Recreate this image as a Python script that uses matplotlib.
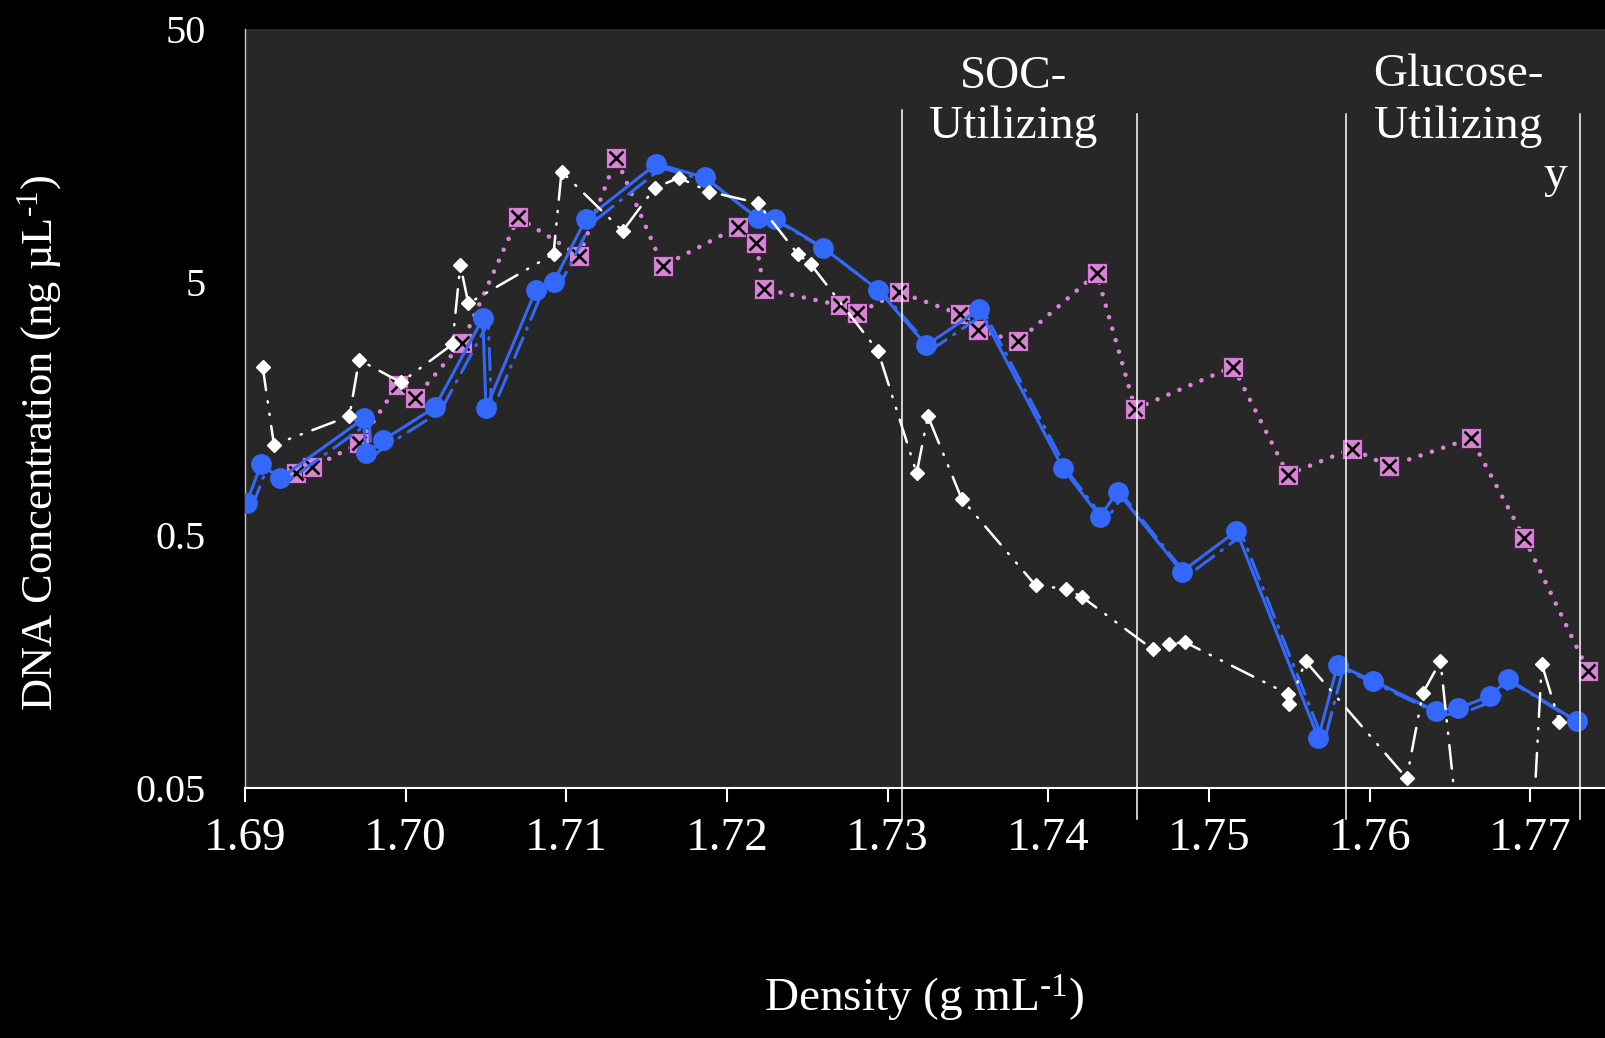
import matplotlib
matplotlib.use("Agg")
from matplotlib import pyplot as plt
from matplotlib import transforms
import numpy as np

plt.rcParams['font.family'] = ['Liberation Serif', 'DejaVu Serif']
plt.rcParams['mathtext.fontset'] = 'custom'
plt.rcParams['mathtext.rm'] = 'Liberation Serif'
plt.rcParams['mathtext.it'] = 'Liberation Serif:italic'

# blue series (circles, solid line)
blue_x = [1.6901, 1.6910, 1.6922, 1.6974, 1.6975, 1.6986, 1.7018, 1.7048, 1.7050, 1.7081,
          1.7092, 1.7112, 1.7156, 1.7186, 1.7219, 1.7230, 1.7260, 1.7294, 1.7324, 1.7357,
          1.7409, 1.7432, 1.7443, 1.7483, 1.7517, 1.7568, 1.7580, 1.7602, 1.7641, 1.7655,
          1.7675, 1.7686, 1.7729]
blue_y = [0.673, 0.954, 0.840, 1.45, 1.055, 1.19, 1.60, 3.60, 1.59, 4.66,
          5.0, 8.87, 14.7, 13.0, 8.96, 8.9, 6.84, 4.67, 2.82, 3.91,
          0.92, 0.592, 0.744, 0.359, 0.52, 0.079, 0.154, 0.133, 0.101, 0.1035,
          0.116, 0.135, 0.092]

# white series (diamonds, dash-dot-dot line); two points fall below the axis
white_x = [1.6911, 1.6918, 1.6965, 1.6971, 1.6997, 1.7029, 1.7034, 1.7039, 1.7092, 1.7097,
           1.7135, 1.7155, 1.7170, 1.7189, 1.7219, 1.7244, 1.7252, 1.7294, 1.7318, 1.7325,
           1.7346, 1.7392, 1.7411, 1.7421, 1.7465, 1.7475, 1.7485, 1.7549, 1.7550, 1.7560,
           1.7623, 1.7633, 1.7644, 1.7656, 1.7701, 1.7707, 1.7718]
white_y = [2.32, 1.14, 1.48, 2.47, 2.01, 2.84, 5.85, 4.13, 6.47, 13.7,
           7.97, 11.8, 12.95, 11.4, 10.3, 6.47, 5.9, 2.67, 0.88, 1.48,
           0.697, 0.317, 0.307, 0.285, 0.177, 0.186, 0.189, 0.118, 0.108, 0.159,
           0.0548, 0.119, 0.159, 0.03, 0.03, 0.155, 0.0916]

# pink series (boxed x, dotted line)
pink_x = [1.6932, 1.6942, 1.6971, 1.6995, 1.7006, 1.7035, 1.7070, 1.7108, 1.7131, 1.7160,
          1.7207, 1.7218, 1.7223, 1.7270, 1.7281, 1.7307, 1.7345, 1.7356, 1.7381, 1.7430,
          1.7454, 1.7515, 1.7549, 1.7589, 1.7612, 1.7663, 1.7696, 1.7736]
pink_y = [0.879, 0.928, 1.155, 1.96, 1.75, 2.87, 9.03, 6.37, 15.5, 5.80,
          8.3, 7.17, 4.71, 4.06, 3.77, 4.57, 3.74, 3.23, 2.92, 5.42,
          1.58, 2.32, 0.869, 1.10, 0.937, 1.21, 0.49, 0.145]

x_ticks = [1.69, 1.70, 1.71, 1.72, 1.73, 1.74, 1.75, 1.76, 1.77]
y_ticks = [0.05, 0.5, 5, 50]
y_tick_labels = ['0.05', '0.5', '5', '50']

# fraction boundaries drawn as vertical lines
bounds = [1.7309, 1.7455, 1.7585, 1.7731]
bound_tops = [0.894, 0.888, 0.888, 0.888]

blue = '#3368f8'
pink = '#da84d8'
bg = '#272727'

fig = plt.figure(figsize=(16.06, 10.38), dpi=100, facecolor='black')
ax = fig.add_axes([245/1606, 1 - 788.3/1038, 1 - 245/1606, 759/1038])
ax.set_facecolor(bg)

ax.set_yscale('log')
ax.set_xlim(1.69, 1.7747)
ax.set_ylim(0.05, 50)

# pink
ax.plot(pink_x, pink_y, color=pink, lw=3.3, linestyle=(0, (0.01, 2.6)),
        dash_capstyle='round', zorder=2)
ax.plot(pink_x, pink_y, linestyle='none', marker='s', ms=14, mfc=pink,
        mec='#4a2448', mew=0.8, zorder=3)
ax.plot(pink_x, pink_y, linestyle='none', marker='x', ms=10, mec='black',
        mew=1.9, zorder=3)

# blue dash-dot companion line, nudged a few pixels
shift = transforms.ScaledTranslation(4/72, -3/72, fig.dpi_scale_trans)
ax.plot(blue_x, blue_y, color=blue, lw=2.2, dashes=(7, 3, 0.5, 3),
        dash_capstyle='round', transform=ax.transData + shift, zorder=4)
ax.plot(blue_x, blue_y, color=blue, lw=2.2, marker='o', ms=14, mfc=blue,
        mec=blue, zorder=5)

# white
ax.plot(white_x, white_y, color='white', lw=1.8,
        dashes=(9.5, 4.5, 0.5, 4.5, 0.5, 4.5), dash_capstyle='round',
        marker='D', ms=7.5, mfc='white', mec='white', zorder=6)

for bx, top in zip(bounds, bound_tops):
    ax.plot([bx, bx], [-0.04, top], color='white', lw=1.1,
            transform=ax.get_xaxis_transform(), clip_on=False, zorder=7)

ax.text(1.73781, 0.9223, 'SOC-', color='white', fontsize=34, ha='center',
        va='baseline', transform=ax.get_xaxis_transform())
ax.text(1.73781, 0.857, 'Utilizing', color='white', fontsize=34, ha='center',
        va='baseline', transform=ax.get_xaxis_transform())
ax.text(1.76552, 0.9253, 'Glucose-', color='white', fontsize=34, ha='center',
        va='baseline', transform=ax.get_xaxis_transform())
ax.text(1.76552, 0.857, 'Utilizing', color='white', fontsize=34, ha='center',
        va='baseline', transform=ax.get_xaxis_transform())
ax.text(1.77153, 0.7926, 'y', color='white', fontsize=34, ha='center',
        va='baseline', transform=ax.get_xaxis_transform())

ax.set_xticks(x_ticks)
ax.set_xticklabels(['%.2f' % v for v in x_ticks])
ax.set_yticks(y_ticks)
ax.set_yticklabels(y_tick_labels)
ax.minorticks_off()
ax.tick_params(axis='x', colors='white', labelsize=34, length=10, width=1.5,
               direction='out', pad=11)
ax.tick_params(axis='y', colors='white', labelsize=29, length=0, pad=28)

for side in ['top', 'right']:
    ax.spines[side].set_visible(False)
ax.spines['bottom'].set_color('white')
ax.spines['bottom'].set_linewidth(1.5)
ax.spines['left'].set_color('#c8c8c8')
ax.spines['left'].set_linewidth(1.0)

ax.set_xlabel('Density (g mL$^{\\text{-1}}$)', color='white', fontsize=34)
ax.xaxis.set_label_coords(0.4989, -0.2776)
ax.xaxis.label.set_va('center')
ax.set_ylabel('DNA Concentration (ng µL$^{\\text{-1}}$)', color='white', fontsize=32)
ax.yaxis.set_label_coords(-0.1506, 0.455)
ax.yaxis.label.set_va('center')

fig.savefig('out.png', dpi=100, facecolor='black')
